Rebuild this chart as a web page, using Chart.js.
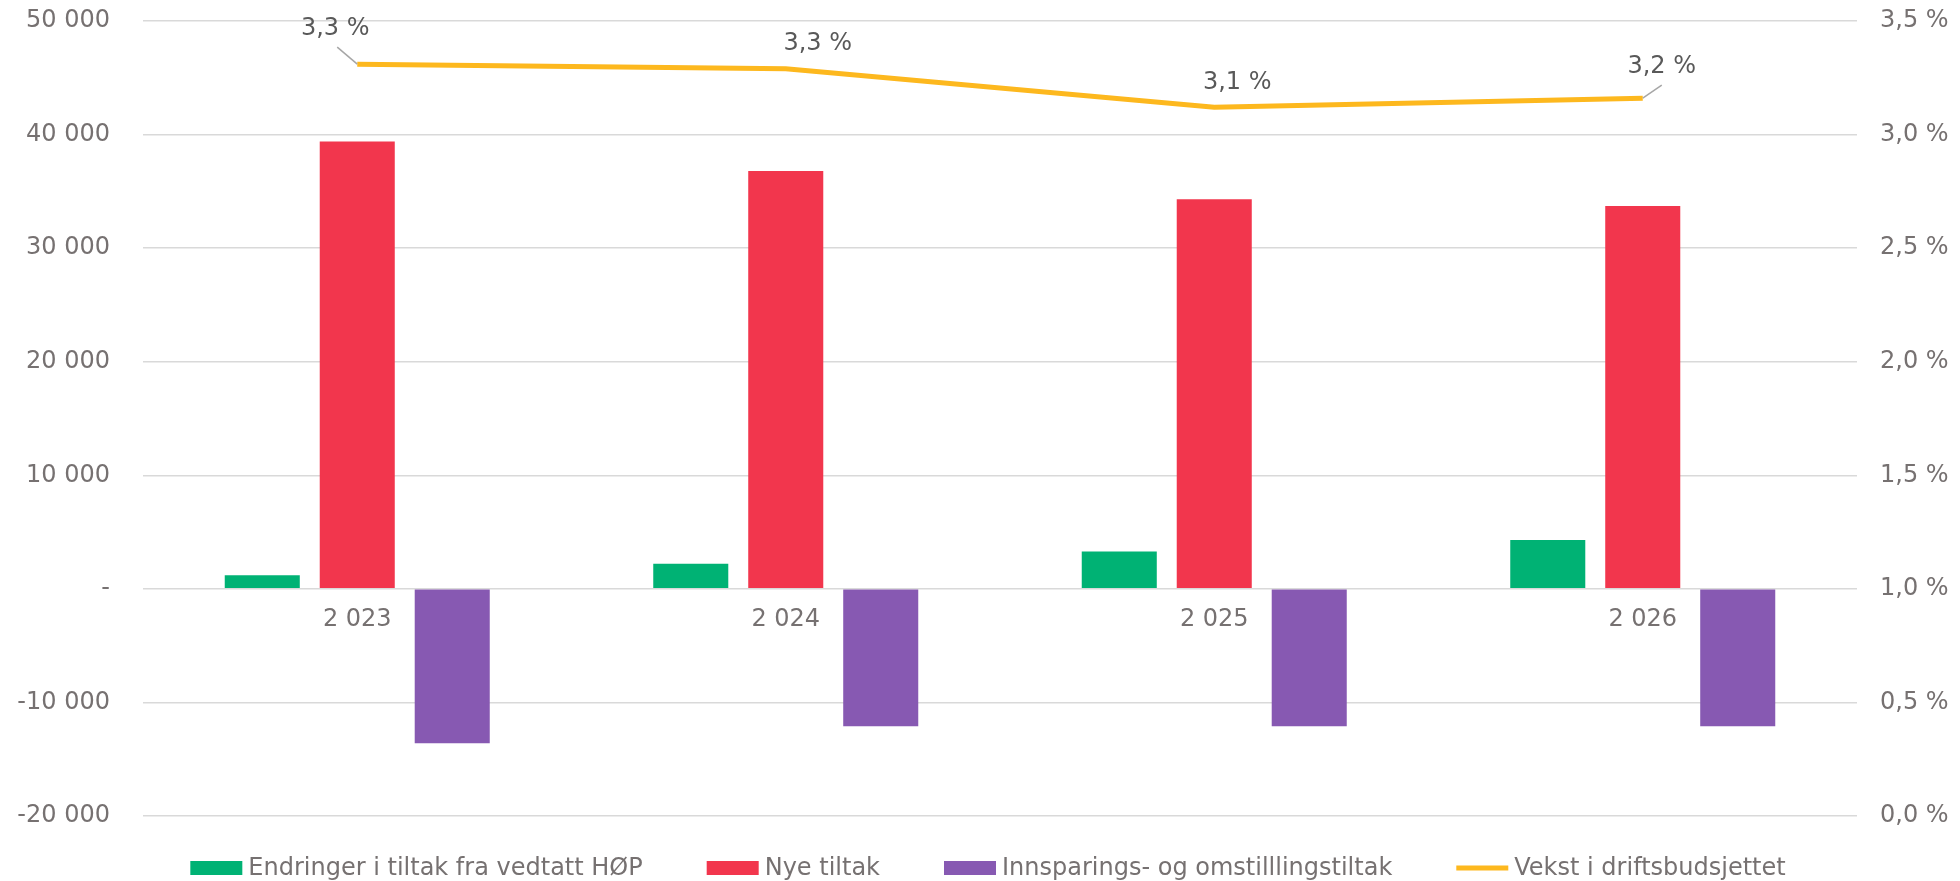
<!DOCTYPE html>
<html lang="no">
  <head>
    <meta charset="UTF-8" />
    <title>Driftsbudsjett</title>
    <style>
      body { margin: 0; background: #fff; }
      .chartBox { width: 1960px; height: 881px; }
    </style>
  </head>
  <body>
    <div class="chartBox">
      <canvas id="myChart"></canvas>
    </div>
    <script src="https://cdn.jsdelivr.net/npm/chart.js/dist/chart.umd.min.js"></script>
    <script>
      // data
      const years = ['2 023', '2 024', '2 025', '2 026'];
      const endringer = [1200, 2200, 3300, 4300];
      const nyeTiltak = [39400, 36800, 34300, 33700];
      const innsparing = [-13600, -12100, -12100, -12100];
      const vekst = [3.31, 3.29, 3.12, 3.16];

      const leftTicks = [-20000, -10000, 0, 10000, 20000, 30000, 40000, 50000];
      const rightTicks = [0, 0.5, 1, 1.5, 2, 2.5, 3, 3.5];

      const tickColor = '#767171';
      const fontStr = "24px 'DejaVu Sans', Verdana, sans-serif";
      Chart.defaults.font.family = "'DejaVu Sans', Verdana, sans-serif";
      Chart.defaults.font.size = 24;
      Chart.defaults.color = tickColor;

      function fmtThousands(v) {
        if (v === 0) return '-';
        const s = Math.abs(v).toString().replace(/\B(?=(\d{3})+(?!\d))/g, ' ');
        return (v < 0 ? '-' : '') + s;
      }
      function fmtPct(v) {
        return v.toFixed(1).replace('.', ',') + ' %';
      }

      // year labels sit just under the zero line
      const yearLabels = {
        id: 'yearLabels',
        afterDatasetsDraw(chart, args, opts) {
          const ctx = chart.ctx;
          const xs = chart.scales.x;
          const y0 = chart.scales.y.getPixelForValue(0);
          ctx.save();
          ctx.font = fontStr;
          ctx.fillStyle = tickColor;
          ctx.textAlign = 'center';
          ctx.textBaseline = 'middle';
          years.forEach((yr, i) => ctx.fillText(yr, xs.getPixelForValue(i), y0 + opts.gap));
          ctx.restore();
        }
      };

      // labels on the line with leader lines, like the original
      const lineLabels = {
        id: 'lineLabels',
        afterDatasetsDraw(chart, args, opts) {
          const ctx = chart.ctx;
          const meta = chart.getDatasetMeta(3);
          ctx.save();
          ctx.font = fontStr;
          ctx.fillStyle = '#595959';
          ctx.textAlign = 'center';
          ctx.textBaseline = 'middle';
          meta.data.forEach((pt, i) => {
            const off = opts.offsets[i];
            if (off[2]) {
              ctx.strokeStyle = '#A6A6A6';
              ctx.lineWidth = 1.5;
              ctx.beginPath();
              ctx.moveTo(pt.x, pt.y);
              ctx.lineTo(pt.x + off[2][0], pt.y + off[2][1]);
              ctx.stroke();
            }
            ctx.fillText(fmtPct(vekst[i]), pt.x + off[0], pt.y + off[1]);
          });
          ctx.restore();
        }
      };

      // legend drawn under the plot, Excel style
      const bottomLegend = {
        id: 'bottomLegend',
        afterDraw(chart, args, opts) {
          const ctx = chart.ctx;
          ctx.save();
          ctx.font = fontStr;
          ctx.textBaseline = 'middle';
          ctx.textAlign = 'left';
          const items = chart.data.datasets.map(ds => ({
            text: ds.label, color: ds.type === 'line' ? ds.borderColor : ds.backgroundColor, line: ds.type === 'line'
          }));
          const boxW = 52, textGap = 6, itemGap = 64;
          let total = 0;
          items.forEach((it, i) => {
            it.w = ctx.measureText(it.text).width;
            total += boxW + textGap + it.w + (i ? itemGap : 0);
          });
          let x = opts.center - total / 2;
          const y = opts.y;
          items.forEach(it => {
            if (it.line) {
              ctx.strokeStyle = it.color;
              ctx.lineWidth = 5;
              ctx.beginPath();
              ctx.moveTo(x, y);
              ctx.lineTo(x + boxW, y);
              ctx.stroke();
            } else {
              ctx.fillStyle = it.color;
              ctx.fillRect(x, y - 7, boxW, 14);
            }
            ctx.fillStyle = tickColor;
            ctx.fillText(it.text, x + boxW + textGap, y + 1);
            x += boxW + textGap + it.w + itemGap;
          });
          ctx.restore();
        }
      };

      const data = {
        labels: years,
        datasets: [
          { type: 'bar', label: 'Endringer i tiltak fra vedtatt HØP', data: endringer, backgroundColor: '#00B274', yAxisID: 'y' },
          { type: 'bar', label: 'Nye tiltak', data: nyeTiltak, backgroundColor: '#F2364D', yAxisID: 'y' },
          { type: 'bar', label: 'Innsparings- og omstilllingstiltak', data: innsparing, backgroundColor: '#8759B2', yAxisID: 'y' },
          { type: 'line', label: 'Vekst i driftsbudsjettet', data: vekst, borderColor: '#FDB81E', backgroundColor: '#FDB81E',
            borderWidth: 5, pointRadius: 0, tension: 0, yAxisID: 'y1' }
        ]
      };

      const config = {
        data,
        options: {
          responsive: true,
          maintainAspectRatio: false,
          animation: false,
          layout: { padding: { top: 21, bottom: 65, left: 0, right: 0 } },
          datasets: { bar: { categoryPercentage: 0.665, barPercentage: 0.79 } },
          plugins: {
            legend: { display: false },
            tooltip: { enabled: false },
            yearLabels: { gap: 31 },
            lineLabels: { offsets: [[-22, -35, [-20, -17]], [32, -25], [23, -25], [19, -31, [19, -13]]] },
            bottomLegend: { center: 988, y: 868 }
          },
          scales: {
            x: {
              display: false,
              offset: true
            },
            y: {
              position: 'left',
              min: -20000,
              max: 50000,
              // keep the tick padding from pushing the plot down
              afterFit: s => { s.width = 143; s.paddingTop = 14; s.paddingBottom = 14; },
              afterBuildTicks: s => { s.ticks = leftTicks.map(v => ({ value: v })); },
              grid: { color: '#D9D9D9', lineWidth: 1.5, drawTicks: false },
              border: { display: false },
              ticks: { padding: 33, color: tickColor, callback: v => fmtThousands(v) }
            },
            y1: {
              position: 'right',
              min: 0,
              max: 3.5,
              afterFit: s => { s.width = 103; s.paddingTop = 14; s.paddingBottom = 14; },
              afterBuildTicks: s => { s.ticks = rightTicks.map(v => ({ value: v })); },
              grid: { display: false, drawTicks: false },
              border: { display: false },
              ticks: { padding: 23, color: tickColor, callback: v => fmtPct(v) }
            }
          }
        },
        plugins: [yearLabels, lineLabels, bottomLegend]
      };

      const myChart = new Chart(document.getElementById('myChart'), config);
    </script>
  </body>
</html>
